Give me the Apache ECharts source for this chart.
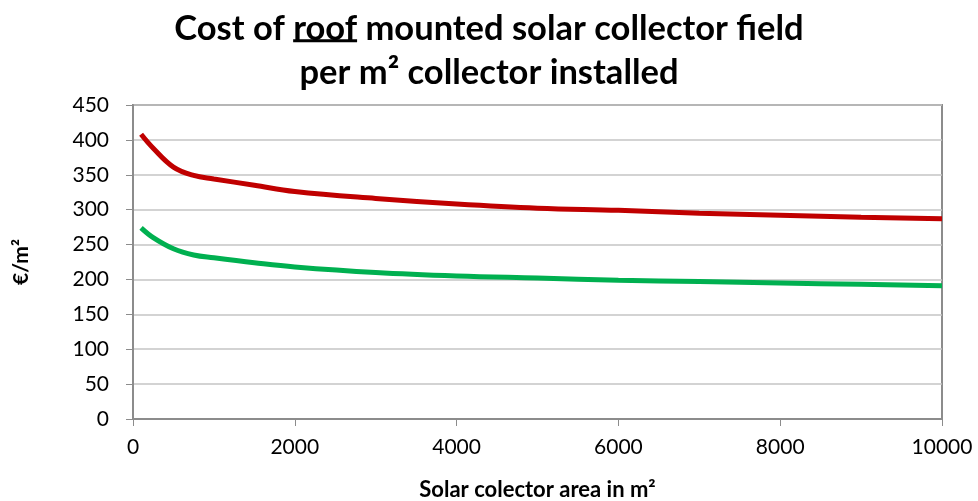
<!DOCTYPE html>
<html>
<head>
<meta charset="utf-8">
<script src="https://cdn.jsdelivr.net/npm/echarts@6/dist/echarts.min.js"></script>
<style>html,body{margin:0;padding:0;background:#fff}#c{width:978px;height:501px}</style>
</head>
<body>
<div id="c"></div>
<script>
var areas = [100, 250, 500, 750, 1000, 1500, 2000, 3000, 4000, 5000, 6000, 7000, 8000, 9000, 10000];
var costHigh = [408, 388, 361, 349, 344, 335, 326, 316, 308, 302, 299, 295, 292, 289, 287];
var costLow = [274, 260, 244, 235, 231, 224, 218, 210, 205, 202, 199, 197, 195, 193, 191];
var titleLine1 = ['Cost of ', 'roof', ' mounted solar collector field'];
var titleLine2 = 'per m\u00b2 collector installed';
var yName = '\u20ac/m\u00b2';
var xName = 'Solar colector area in m\u00b2';

var FONT = 'Lato';
var TITLE_SIZE = 34.5;
var TITLE_TOP = 2;
var TITLE_LH = 44;
var chart = echarts.init(document.getElementById('c'));
function pairs(xs, ys){ return xs.map(function(x,i){return [x, ys[i]];}); }

// underline position for "roof" from text metrics
var cv = document.createElement('canvas').getContext('2d');
cv.font = 'bold ' + TITLE_SIZE + 'px ' + FONT;
var fullW = cv.measureText(titleLine1.join('')).width;
var preW = cv.measureText(titleLine1[0]).width;
var uW = cv.measureText(titleLine1[1]).width;
var uX = (978 - fullW) / 2 + preW;

chart.setOption({
  animation: false,
  backgroundColor: '#fff',
  title: {
    text: titleLine1.join('') + '\n' + titleLine2,
    left: 'center', top: TITLE_TOP,
    textStyle: { fontFamily: FONT, fontWeight: 'bold', fontSize: TITLE_SIZE, color: '#000', lineHeight: TITLE_LH }
  },
  graphic: [{
    type: 'rect', silent: true,
    shape: { x: uX, y: TITLE_TOP + TITLE_LH / 2 + TITLE_SIZE * 0.44, width: uW, height: 3 },
    style: { fill: '#000' }
  }],
  grid: { left: 133, right: 36, top: 105, bottom: 82, show: true, borderColor: '#8c8c8c', borderWidth: 2, containLabel: false, outerBoundsMode: 'none' },
  xAxis: {
    type: 'value', min: 0, max: 10000, interval: 2000,
    name: xName, nameLocation: 'middle', nameGap: 60,
    nameTextStyle: { fontFamily: FONT, fontWeight: 'bold', fontSize: 22, color: '#000' },
    axisLine: { show: true, lineStyle: { color: '#8c8c8c', width: 2 } },
    axisTick: { show: true, length: 7, lineStyle: { color: '#8c8c8c' } },
    axisLabel: { fontFamily: FONT, fontSize: 21, color: '#000', margin: 18, formatter: function(v){ return String(v); } },
    splitLine: { show: false }
  },
  yAxis: {
    type: 'value', min: 0, max: 450, interval: 50,
    name: yName, nameLocation: 'middle', nameGap: 101, nameRotate: 90,
    nameTextStyle: { fontFamily: FONT, fontWeight: 'bold', fontSize: 21, color: '#000' },
    axisLine: { show: true, lineStyle: { color: '#8c8c8c', width: 2 } },
    axisTick: { show: true, length: 7, lineStyle: { color: '#8c8c8c' } },
    axisLabel: { fontFamily: FONT, fontSize: 21, color: '#000', margin: 24 },
    splitLine: { show: true, lineStyle: { color: '#c4c4c4', width: 1.5 } }
  },
  series: [
    { type: 'line', data: pairs(areas, costHigh), smooth: 0.4, symbol: 'none', lineStyle: { color: '#c00000', width: 5 } },
    { type: 'line', data: pairs(areas, costLow), smooth: 0.4, symbol: 'none', lineStyle: { color: '#00b050', width: 5 } }
  ]
});
</script>
</body>
</html>
